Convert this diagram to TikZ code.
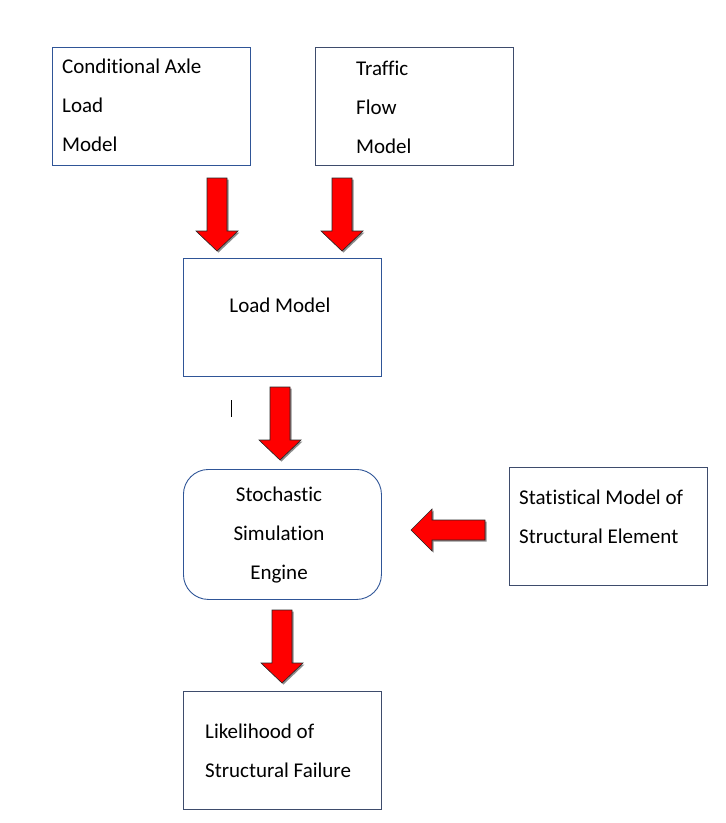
\documentclass[tikz,border=0pt]{standalone}
\usepackage{fontspec}
\setmainfont{Carlito}[Ligatures={NoCommon}]
\definecolor{boxblue}{HTML}{2F5597}
\definecolor{boxgray}{HTML}{3E4C6C}
\definecolor{arrshadowc}{HTML}{8C8C8C}
\tikzset{
  box/.style={draw=boxblue, line width=0.9pt, minimum width=198pt, minimum height=118pt, inner sep=0pt, anchor=north west},
  txt/.style={font=\fontsize{21}{39}\selectfont, inner sep=0pt, align=left, anchor=west, text=black},
  redarr/.style={fill=red, draw=black!85, line width=0.6pt, line join=miter},
  arrshadow/.style={fill=arrshadowc}
}
\newcommand\dnarr[3]{%
  \fill[arrshadow,shift={(1.5,1.5)}] (#1-10,#2) -- (#1+10,#2) -- (#1+10,#3-20) -- (#1+21,#3-20) -- (#1,#3) -- (#1-21,#3-20) -- (#1-10,#3-20) -- cycle;
  \filldraw[redarr] (#1-10,#2) -- (#1+10,#2) -- (#1+10,#3-20) -- (#1+21,#3-20) -- (#1,#3) -- (#1-21,#3-20) -- (#1-10,#3-20) -- cycle;}
\begin{document}
\begin{tikzpicture}[x=1pt,y=-1pt]
\useasboundingbox (0,0) rectangle (726,823);
% boxes
\node[box] (cam) at (52,47) {};
\node[box, draw=boxgray] (tfm) at (315,47) {};
\node[box] (lm) at (183,258) {};
\node[box, rounded corners=25pt, minimum height=130pt] (sse) at (183,469) {};
\node[box, draw=boxgray] (sme) at (509,467) {};
\node[box, draw=boxgray] (lsf) at (183,691) {};
% texts
\node[txt] (camt) at (62,105) {Conditional Axle\\Load\\Model};
\node[txt] (tfmt) at (356,107) {Traffic\\Flow\\Model};
\node[txt, anchor=center] (lmt) at (280,305) {Load Model};
\node[txt, anchor=center, align=center] (sset) at (279,535) {Stochastic\\Simulation\\Engine};
\node[txt] (smet) at (519,516.5) {Statistical Model of\\Structural Element};
\node[txt] (lsft) at (205,750.5) {Likelihood of\\Structural Failure};
% cursor mark
\draw[black, line width=0.8pt] (231,400) -- (231,417);
% arrows
\dnarr{217}{178}{251}
\dnarr{342}{178}{251}
\dnarr{280}{387}{460}
\dnarr{282}{610}{683}
\fill[arrshadow,shift={(1.5,1.5)}] (485,520) -- (485,540) -- (432,540) -- (432,551) -- (411,530) -- (432,509) -- (432,520) -- cycle;
\filldraw[redarr] (485,520) -- (485,540) -- (432,540) -- (432,551) -- (411,530) -- (432,509) -- (432,520) -- cycle;
\end{tikzpicture}
\end{document}
